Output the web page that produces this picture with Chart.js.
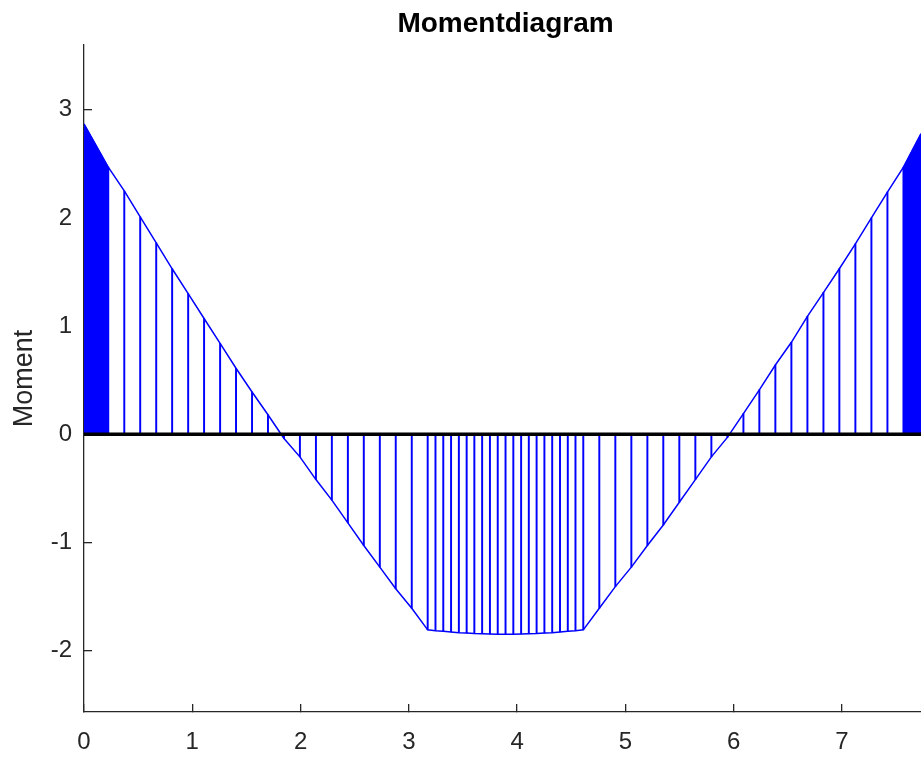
<!DOCTYPE html>
<html lang="de">
<head>
  <meta charset="UTF-8" />
  <title>Momentdiagram</title>
  <script src="https://cdn.jsdelivr.net/npm/chart.js"></script>
  <style>
    body {
      margin: 0;
      background: #fff;
      overflow: hidden;
    }
  </style>
</head>
<body>
  <canvas id="momentChart" width="921" height="760"></canvas>

  <script>
    // Werte
    const chartTitle = "Momentdiagram";
    const yLabel = "Moment";

    // Positionen der Schraffurlinien
    const positionX = [
      0.224, 0.372, 0.519, 0.667, 0.814, 0.962, 1.109, 1.257, 1.404, 1.552, 1.699,
      1.847, 1.994, 2.142, 2.289, 2.437, 2.584, 2.732, 2.879, 3.027, 3.174,
      3.246, 3.318, 3.390, 3.462, 3.534, 3.605, 3.677, 3.749, 3.821, 3.893,
      3.965, 4.037, 4.108, 4.180, 4.252, 4.324, 4.396, 4.468, 4.539, 4.611,
      4.759, 4.907, 5.055, 5.203, 5.350, 5.498, 5.646, 5.794, 5.942, 6.090,
      6.237, 6.385, 6.533, 6.681, 6.829, 6.976, 7.124, 7.272, 7.420, 7.568
    ];
    const moment = [
      2.47, 2.25, 2.01, 1.77, 1.53, 1.30, 1.07, 0.84, 0.61, 0.39, 0.18,
      -0.04, -0.21, -0.42, -0.61, -0.82, -1.03, -1.23, -1.43, -1.61, -1.81,
      -1.818, -1.824, -1.830, -1.836, -1.840, -1.844, -1.846, -1.848, -1.850, -1.850,
      -1.850, -1.848, -1.846, -1.844, -1.840, -1.836, -1.830, -1.824, -1.818, -1.81,
      -1.61, -1.41, -1.23, -1.03, -0.84, -0.63, -0.42, -0.21, -0.03, 0.19,
      0.41, 0.64, 0.85, 1.09, 1.31, 1.53, 1.76, 2.00, 2.24, 2.47
    ];

    // dicht gefuellte Bereiche an den Enden
    const leftFillX = [0, 0.224];
    const leftFillMoment = [2.87, 2.47];
    const rightFillX = [7.568, 7.73];
    const rightFillMoment = [2.47, 2.78];

    // Nulllinie
    const baseX = [0, 7.73];
    const baseY = [0, 0];

    const xMin = 0, xMax = 7.73;
    const yMin = -2.57, yMax = 3.6;

    const blue = "#0000ff";
    const axisColor = "#262626";

    function toPoints(xs, ys) {
      return xs.map((x, i) => ({ x: x, y: ys[i] }));
    }

    // Umriss: linkes Ende + Schraffurpunkte + rechtes Ende
    const outline = toPoints(
      [leftFillX[0]].concat(positionX, [rightFillX[1]]),
      [leftFillMoment[0]].concat(moment, [rightFillMoment[1]])
    );
    const hatch = positionX.map((x, i) => ({ x: x, y: [0, moment[i]] }));

    // Titel ueber der Achsenmitte
    const titlePlugin = {
      id: "plotTitle",
      afterDraw(chart) {
        const { ctx, chartArea } = chart;
        ctx.save();
        ctx.font = 'bold 28px "Liberation Sans", Arial, sans-serif';
        ctx.fillStyle = "#000";
        ctx.textAlign = "center";
        ctx.textBaseline = "alphabetic";
        ctx.fillText(chartTitle, (chartArea.left + chartArea.right) / 2 + 3, 32);
        ctx.restore();
      }
    };

    Chart.defaults.font.family = '"Liberation Sans", Arial, sans-serif';
    Chart.defaults.color = axisColor;

    const ctx = document.getElementById("momentChart").getContext("2d");
    new Chart(ctx, {
      type: "line",
      data: {
        datasets: [
          {
            label: "Null",
            data: toPoints(baseX, baseY),
            borderColor: "#000",
            borderWidth: 3.5,
            pointRadius: 0,
            order: 0
          },
          {
            label: "Umriss",
            data: outline,
            borderColor: blue,
            borderWidth: 1.5,
            pointRadius: 0,
            tension: 0,
            order: 1
          },
          {
            label: "links",
            data: toPoints(leftFillX, leftFillMoment),
            borderColor: blue,
            borderWidth: 1,
            backgroundColor: blue,
            fill: "origin",
            pointRadius: 0,
            order: 2
          },
          {
            label: "rechts",
            data: toPoints(rightFillX, rightFillMoment),
            borderColor: blue,
            borderWidth: 1,
            backgroundColor: blue,
            fill: "origin",
            pointRadius: 0,
            order: 2
          },
          {
            type: "bar",
            label: "Schraffur",
            data: hatch,
            backgroundColor: blue,
            borderWidth: 0,
            barThickness: 1.3,
            grouped: false,
            order: 3
          }
        ]
      },
      options: {
        responsive: false,
        animation: false,
        devicePixelRatio: 1,
        layout: { padding: { top: 45, left: 0, right: 0, bottom: 0 } },
        plugins: {
          legend: { display: false },
          tooltip: { enabled: false },
          title: { display: false }
        },
        scales: {
          x: {
            type: "linear",
            min: xMin,
            max: xMax,
            offset: false,
            afterFit: (s) => { s.height = 48; },
            ticks: {
              stepSize: 1,
              includeBounds: false,
              padding: 24,
              font: { size: 24 },
              color: axisColor,
              maxRotation: 0
            },
            grid: {
              offset: false,
              drawOnChartArea: false,
              tickLength: -8,
              color: axisColor,
              lineWidth: 1.3
            },
            border: { color: axisColor, width: 1.3 }
          },
          y: {
            type: "linear",
            min: yMin,
            max: yMax,
            afterFit: (s) => { s.width = 84; },
            ticks: {
              stepSize: 1,
              includeBounds: false,
              padding: 20,
              font: { size: 24 },
              color: axisColor
            },
            grid: {
              offset: false,
              drawOnChartArea: false,
              tickLength: -8,
              color: axisColor,
              lineWidth: 1.3
            },
            border: { color: axisColor, width: 1.3 },
            title: {
              display: true,
              text: yLabel,
              font: { size: 27 },
              color: axisColor,
              padding: { top: 8, bottom: 0 }
            }
          }
        }
      },
      plugins: [titlePlugin]
    });
  </script>
</body>
</html>
